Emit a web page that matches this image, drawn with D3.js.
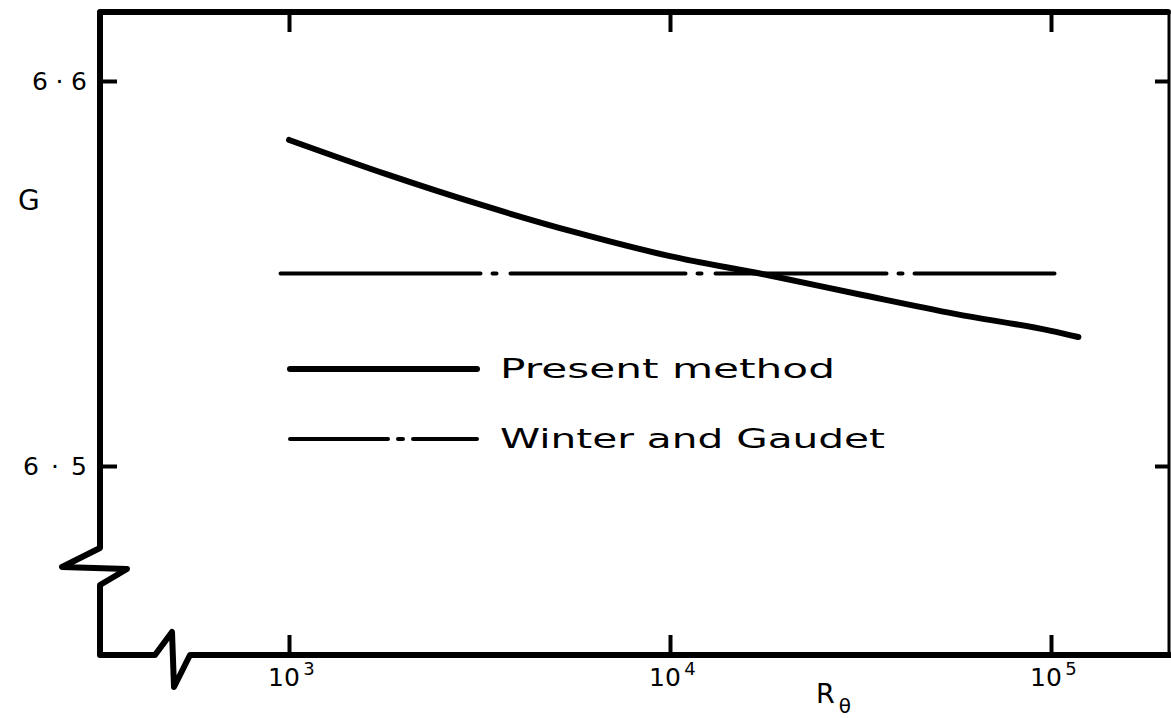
<!DOCTYPE html>
<html>
<head>
<meta charset="utf-8">
<script src="https://cdn.jsdelivr.net/npm/d3@7/dist/d3.min.js"></script>
<style>
  html, body { margin: 0; padding: 0; background: #fff; }
  svg { display: block; }
  text { font-family: "DejaVu Sans", sans-serif; fill: #000; }
</style>
</head>
<body>
<svg id="chart" width="1171" height="718"></svg>
<script>
// Momentum-thickness Reynolds number R_theta and the G parameter
const reynolds      = [1000, 1800, 3200, 5600, 10000, 18000, 32000, 56000, 100000, 118000];
const presentMethod = [6.5847, 6.5758, 6.5678, 6.5608, 6.5545, 6.5496, 6.5444, 6.5395, 6.5351, 6.5335];
const winterRange   = [950, 107000];
const winterG       = [6.55, 6.55];
const xTickValues   = [1e3, 1e4, 1e5];
const xTickExponent = ["3", "4", "5"];
const yTickValues   = [6.5, 6.6];
const yTickLabels   = ["6\u00b75", "6\u00b76"];
const legendLabels  = ["Present method", "Winter and Gaudet"];

const svg = d3.select("#chart");

const x = d3.scaleLog().domain([1e3, 1e5]).range([289, 1051]);
const y = d3.scaleLinear().domain([6.5, 6.6]).range([466, 81]);

// frame with broken axes
svg.append("path")
  .attr("d", "M1168,12 L100,12 L100,548 L62,567 L127,569 L100,585 L100,655 L155,655 L172,632 L174,687 L190,655 L1171,655")
  .attr("fill", "none").attr("stroke", "#000").attr("stroke-width", 6)
  .attr("stroke-linejoin", "round").attr("stroke-linecap", "round");
svg.append("line")
  .attr("x1", 1169).attr("y1", 12).attr("x2", 1169).attr("y2", 655)
  .attr("stroke", "#000").attr("stroke-width", 3);

// inward ticks on all four sides
function styleTicks(g) {
  g.select(".domain").remove();
  g.selectAll(".tick line").attr("stroke", "#000").attr("stroke-width", 4);
  g.selectAll(".tick text").remove();
}
svg.append("g").attr("transform", "translate(0,655)")
  .call(d3.axisBottom(x).tickValues(xTickValues).tickSize(-20)).call(styleTicks);
svg.append("g").attr("transform", "translate(0,12)")
  .call(d3.axisTop(x).tickValues(xTickValues).tickSize(-20)).call(styleTicks);
svg.append("g").attr("transform", "translate(100,0)")
  .call(d3.axisLeft(y).tickValues(yTickValues).tickSize(-17)).call(styleTicks);
svg.append("g").attr("transform", "translate(1169,0)")
  .call(d3.axisRight(y).tickValues(yTickValues).tickSize(-14)).call(styleTicks);

// x tick labels: powers of ten
xTickValues.forEach((v, i) => {
  const t = svg.append("text").attr("x", x(v) - 21).attr("y", 686)
    .attr("font-size", 25);
  t.append("tspan").text("10").attr("textLength", 32).attr("lengthAdjust", "spacing");
  t.append("tspan").text(xTickExponent[i]).attr("dx", 3).attr("dy", -11).attr("font-size", 18);
});

// y tick labels
const yLabelWidth = [64, 55];
yTickValues.forEach((v, i) => {
  svg.append("text").attr("x", 87 - yLabelWidth[i]).attr("y", y(v) + 9)
    .attr("font-size", 25)
    .attr("textLength", yLabelWidth[i]).attr("lengthAdjust", "spacing")
    .text(yTickLabels[i]);
});

// axis titles
svg.append("text").attr("x", 18).attr("y", 210).attr("font-size", 28).text("G");
const rt = svg.append("text").attr("x", 816).attr("y", 703).attr("font-size", 27);
rt.append("tspan").text("R");
rt.append("tspan").text("\u03b8").attr("dx", 4).attr("dy", 10).attr("font-size", 20);

// curves
const line = d3.line().x(d => x(d[0])).y(d => y(d[1])).curve(d3.curveMonotoneX);
const dashDot = "200,12,4,14,175,12,4,14,171,12,4,12,140";

svg.append("path")
  .datum(winterRange.map((r, i) => [r, winterG[i]]))
  .attr("d", line).attr("fill", "none").attr("stroke", "#000")
  .attr("stroke-width", 4).attr("stroke-linecap", "round")
  .attr("stroke-dasharray", dashDot);

svg.append("path")
  .datum(reynolds.map((r, i) => [r, presentMethod[i]]))
  .attr("d", line).attr("fill", "none").attr("stroke", "#000")
  .attr("stroke-width", 6).attr("stroke-linecap", "round");

// legend
const legend = svg.append("g");
legend.append("line").attr("x1", 290).attr("x2", 477).attr("y1", 369).attr("y2", 369)
  .attr("stroke", "#000").attr("stroke-width", 6).attr("stroke-linecap", "round");
legend.append("line").attr("x1", 290).attr("x2", 477).attr("y1", 439).attr("y2", 439)
  .attr("stroke", "#000").attr("stroke-width", 4).attr("stroke-linecap", "round")
  .attr("stroke-dasharray", "98,10,5,10,200");
legend.append("text").attr("x", 500).attr("y", 378).attr("font-size", 26)
  .attr("textLength", 335).attr("lengthAdjust", "spacingAndGlyphs").text(legendLabels[0]);
legend.append("text").attr("x", 500).attr("y", 448).attr("font-size", 26)
  .attr("textLength", 385).attr("lengthAdjust", "spacingAndGlyphs").text(legendLabels[1]);
</script>
</body>
</html>
